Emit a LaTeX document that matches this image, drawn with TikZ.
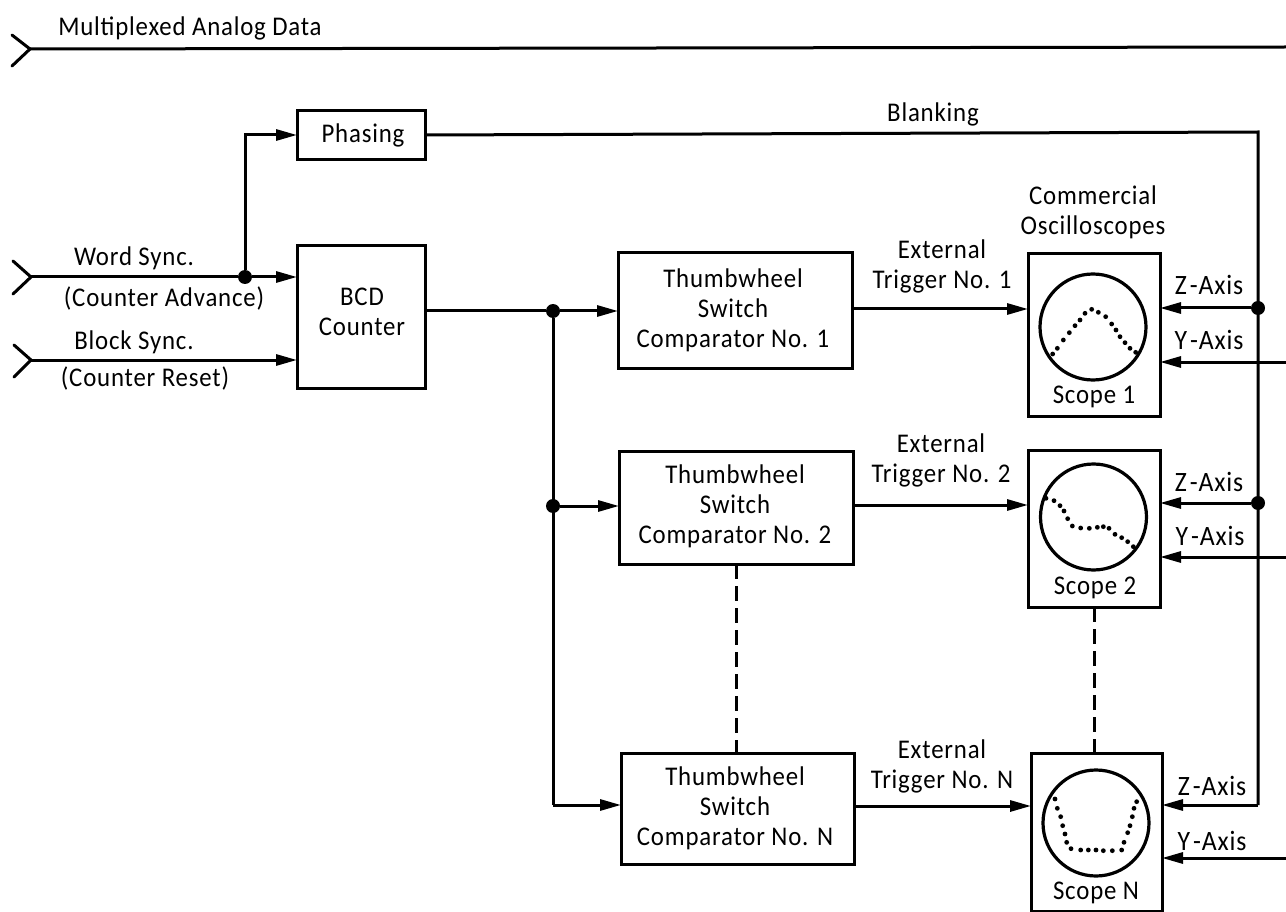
\documentclass[tikz,border=0pt]{standalone}
\usepackage{fontspec}
\setmainfont[FakeStretch=0.92,LetterSpace=3]{Carlito}
\usetikzlibrary{arrows.meta}
\tikzset{
  x=1pt,y=-1pt,
  every node/.style={inner sep=0pt,outer sep=0pt},
  lbl/.style={font=\fontsize{27}{30}\selectfont,align=center,text=black},
  axislbl/.style={font=\fontsize{28}{30}\selectfont,text=black},
  blockbox/.style={draw,line width=3pt,fill=white},
  wire/.style={line width=3pt},
  arr/.style={line width=3pt,-{Triangle[length=21pt,width=11pt]}},
  chev/.style={line width=3pt,line cap=round},
  dotjoin/.style={circle,fill=black,minimum size=14pt},
  dashline/.style={line width=3pt,dash pattern=on 15pt off 7pt},
  scr/.style={draw,circle,line width=3.2pt,minimum size=106pt},
  trace/.style={fill=black}
}
\begin{document}
\begin{tikzpicture}
\useasboundingbox[fill=white] (0,0) rectangle (1286,912);
% boxes
\node[blockbox,minimum width=128pt,minimum height=49pt] (ph) at (361,135) {};
\node[blockbox,minimum width=128pt,minimum height=142pt] (bcd) at (361,317) {};
\node[blockbox,minimum width=234pt,minimum height=115pt] (c1) at (735,310.5) {};
\node[blockbox,minimum width=234pt,minimum height=113pt] (c2) at (736,507.5) {};
\node[blockbox,minimum width=233pt,minimum height=111pt] (cn) at (737.5,808.5) {};
\node[blockbox,minimum width=132pt,minimum height=162pt] (s1) at (1094,335) {};
\node[blockbox,minimum width=132pt,minimum height=157pt] (s2) at (1094,528.5) {};
\node[blockbox,minimum width=131pt,minimum height=158pt] (sn) at (1096.5,832) {};
\node[scr] (o1) at (1093,327) {};
\node[scr] (o2) at (1093.5,517) {};
\node[scr] (on) at (1096,823) {};
% junctions and free ends
\coordinate (m0) at (30,49); \coordinate (m1) at (1286,47);
\coordinate (w0) at (31,277); \coordinate (b0) at (31,360);
\node[dotjoin] (jw) at (245,277) {};
\node[dotjoin] (ja) at (553,311) {};
\node[dotjoin] (jb) at (553,506) {};
\node[dotjoin] (jz1) at (1258,308) {};
\node[dotjoin] (jz2) at (1258,503) {};
\coordinate (busn) at (1258,805);
\coordinate (bcorn) at (1258,132);
\coordinate (cornn) at (553,805);
\coordinate (y1) at (1286,362);
\coordinate (y2) at (1286,557);
\coordinate (yn) at (1286,858);
% input chevrons
\draw[chev] (12,35) -- (m0) -- (12,66);
\draw[chev] (13,261) -- (w0) -- (13,294);
\draw[chev] (14,345) -- (b0) -- (14,377);
% wires
\draw[wire] (m0) -- (m1);
\draw[wire] (w0) -- (jw);
\draw[arr] (jw) -- (jw -| bcd.west);
\draw[arr] (jw) |- (ph.west);
\draw[arr] (b0) -- (b0 -| bcd.west);
\draw[wire] (ph.east) -- (bcorn) -- (busn);
\draw[wire] (ja -| bcd.east) -- (ja);
\draw[arr] (ja) -- (ja -| c1.west);
\draw[wire] (ja) -- (cornn);
\draw[arr] (jb) -- (jb -| c2.west);
\draw[arr] (cornn) -- (cornn -| cn.west);
\draw[arr] (c1.east |- 0,309) -- (s1.west |- 0,309);
\draw[arr] (c2.east |- 0,505) -- (s2.west |- 0,505);
\draw[arr] (cn.east |- 0,806) -- (sn.west |- 0,806);
\draw[arr] (jz1) -- (jz1 -| s1.east);
\draw[arr] (jz2) -- (jz2 -| s2.east);
\draw[arr] (busn) -- (busn -| sn.east);
\draw[arr] (y1) -- (y1 -| s1.east);
\draw[arr] (y2) -- (y2 -| s2.east);
\draw[arr] (yn) -- (yn -| sn.east);
\draw[dashline] (c2.south) -- (c2.south |- cn.north);
\draw[dashline] (s2.south) -- (s2.south |- sn.north);
% labels
\node[lbl] (t1) at (190,28) {Multiplexed Analog Data};
\node[lbl] (t2) at (363,135) {Phasing};
\node[lbl] (t3) at (933,114) {Blanking};
\node[lbl] (t4) at (134,258) {Word Sync.};
\node[lbl] (t5) at (164,298) {(Counter Advance)};
\node[lbl] (t6) at (134,342) {Block Sync.};
\node[lbl] (t7) at (145,378) {(Counter Reset)};
\node[lbl] (t8) at (362,312) {BCD\\Counter};
\node[lbl] (t9) at (733,310) {Thumbwheel\\Switch\\Comparator No. 1};
\node[lbl] (t10) at (735,506) {Thumbwheel\\Switch\\Comparator No. 2};
\node[lbl] (t11) at (735,808) {Thumbwheel\\Switch\\Comparator No. N};
\node[lbl] (t12) at (942,266) {External\\Trigger No. 1};
\node[lbl] (t13) at (941,460) {External\\Trigger No. 2};
\node[lbl] (t14) at (942,766) {External\\Trigger No. N};
\node[lbl] (t15) at (1093,212) {Commercial\\Oscilloscopes};
\node[axislbl] (t16) at (1209,285) {Z\kern3pt-Axis};
\node[axislbl] (t17) at (1209,340) {Y\kern3pt-Axis};
\node[axislbl] (t18) at (1209,482) {Z\kern3pt-Axis};
\node[axislbl] (t19) at (1210,536) {Y\kern3pt-Axis};
\node[axislbl] (t20) at (1212,786) {Z\kern3pt-Axis};
\node[axislbl] (t21) at (1212,841) {Y\kern3pt-Axis};
\node[lbl] (t22) at (1094,397) {Scope 1};
\node[lbl] (t23) at (1095,588) {Scope 2};
\node[lbl] (t24) at (1096,893) {Scope N};
% traces
\foreach \a/\b in {278/522,292/505,310/480,328/458,345/437,360/420,375/400,395/388,415/397,437/410,455/432,468/450,480/470,495/488,510/505,527/517}
  {\fill[trace] ({960+\a/3},{180+\b/3}) circle (2.4pt);}
\foreach \a/\b in {258/175,282/182,300/197,312/213,323/236,337/258,362/264,388/265,412/262,430/260,447/265,465/283,485/293,503/305,520/320}
  {\fill[trace] ({960+\a/3},{440+\b/3}) circle (2.4pt);}
\foreach \a/\b in {285/1077,292/1105,302/1130,308/1157,315/1182,320/1207,333/1226,362/1230,385/1230,408/1230,430/1232,457/1232,485/1230,492/1207,503/1178,510/1157,517/1130,522/1105,530/1085}
  {\fill[trace] ({960+\a/3},{440+\b/3}) circle (2.4pt);}
\end{tikzpicture}
\end{document}
